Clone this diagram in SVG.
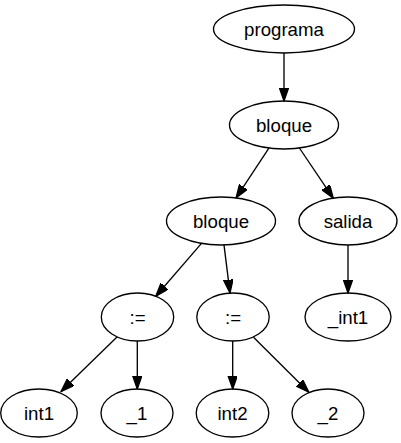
<svg xmlns="http://www.w3.org/2000/svg" width="401" height="443" viewBox="0 0 401 443">
<style>
.n ellipse{fill:none;stroke:#000;stroke-width:1.33}
.n text{font-family:"Liberation Sans",Arial,sans-serif;font-size:18.67px;text-anchor:middle;fill:#000}
.e line{stroke:#000;stroke-width:1.33;marker-end:url(#ah)}
</style>
<defs>
<marker id="ah" markerUnits="userSpaceOnUse" markerWidth="14" markerHeight="10" refX="13.3" refY="4.67" orient="auto" viewBox="0 0 14 10">
<path d="M0,0 L13.3,4.67 L0,9.33 z" fill="#000" stroke="#000" stroke-width="1.33"/>
</marker>
</defs>
<rect width="401" height="443" fill="#fff"/>
<g id="edges" class="e">
<line x1="284" y1="53" x2="284" y2="101"/>
<line x1="268.9" y1="148.1" x2="236.1" y2="197.9"/>
<line x1="299.4" y1="148" x2="333.2" y2="198.2"/>
<line x1="201.5" y1="243.4" x2="155.8" y2="296.2"/>
<line x1="224" y1="245" x2="230" y2="293.1"/>
<line x1="348" y1="245" x2="348" y2="293"/>
<line x1="117" y1="337" x2="61" y2="391.5"/>
<line x1="137.3" y1="341" x2="137.3" y2="389"/>
<line x1="232.7" y1="341" x2="232.7" y2="389"/>
<line x1="253.5" y1="337.3" x2="308.8" y2="392.2"/>
</g>
<g id="programa" class="n"><ellipse cx="284" cy="29" rx="70.5" ry="24"/><text x="284" y="35.5">programa</text></g>
<g id="bloque1" class="n"><ellipse cx="284" cy="125" rx="54.5" ry="24"/><text x="284" y="131.5">bloque</text></g>
<g id="bloque2" class="n"><ellipse cx="221" cy="221" rx="54.5" ry="24"/><text x="221" y="227.5">bloque</text></g>
<g id="salida" class="n"><ellipse cx="348" cy="221" rx="49" ry="24"/><text x="348" y="227.5">salida</text></g>
<g id="asig1" class="n"><ellipse cx="137.5" cy="317" rx="36.2" ry="24"/><text x="137.5" y="323.5">:=</text></g>
<g id="asig2" class="n"><ellipse cx="233" cy="317" rx="36.2" ry="24"/><text x="233" y="323.5">:=</text></g>
<g id="_int1" class="n"><ellipse cx="348" cy="317" rx="43" ry="24"/><text x="348" y="323.5">_int1</text></g>
<g id="int1" class="n"><ellipse cx="39" cy="413" rx="38.3" ry="24"/><text x="39" y="419.5">int1</text></g>
<g id="_1" class="n"><ellipse cx="137" cy="413" rx="36" ry="24"/><text x="137" y="419.5">_1</text></g>
<g id="int2" class="n"><ellipse cx="232.5" cy="413" rx="36.3" ry="24"/><text x="232.5" y="419.5">int2</text></g>
<g id="_2" class="n"><ellipse cx="328" cy="413" rx="36" ry="24"/><text x="328" y="419.5">_2</text></g>
</svg>
